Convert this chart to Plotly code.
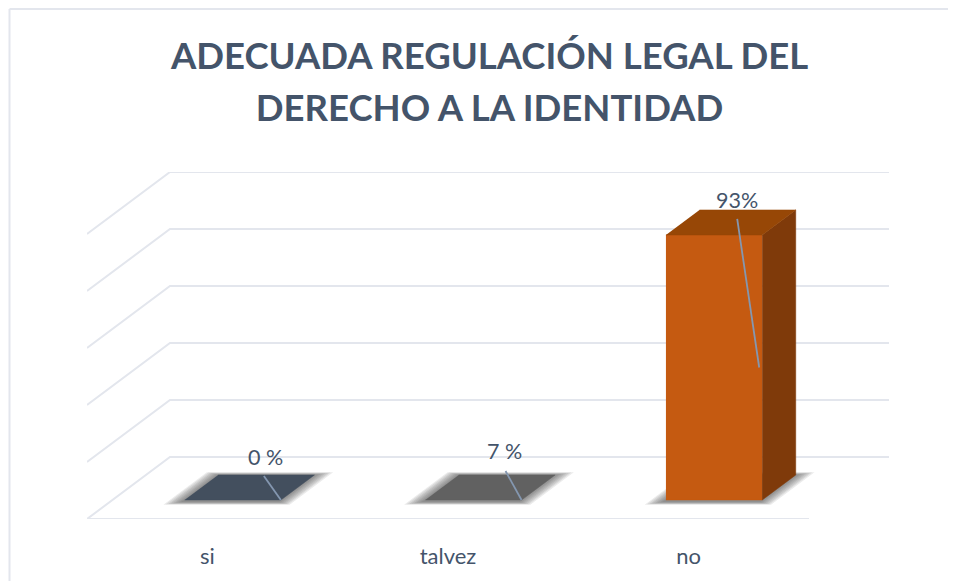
import plotly.graph_objects as go

categories = ['si', 'talvez', 'no']
bar_heights = [0, 0, 93]
data_labels = ['0 %', '7 %', '93%']
gridline_values = [0, 20, 40, 60, 80, 100]

top_colors = ['#434F5E', '#616161', '#974706']
front_colors = ['#44546A', '#636363', '#C55A11']
side_colors = ['#333F50', '#4A4A4A', '#7F3A0A']

TEXT_COLOR = '#44546A'
GRID_COLOR = '#E3E6ED'
LEADER_COLOR = '#8497B0'

# the page keeps an 8px body margin, so the figure is 8px smaller and all px are shifted
FIG_W, FIG_H = 948, 573
LEFT, RIGHT, TOP, BOTTOM = 79, 881, 164, 511
X_UNIT = 240.67   # px per category
Y_UNIT = 2.85     # px per percent

# the fake 3d floor: how far the back wall sits from the front edge
DEPTH_X = 83 / X_UNIT
DEPTH_Y = 62 / Y_UNIT
BAR_FRONT = 0.306
BAR_BACK = 0.71
BAR_HALF = 0.2


def project(x, value, depth):
    return x + depth * DEPTH_X, value - DEPTH_Y + depth * DEPTH_Y


def face(corners, color, edge=0.5):
    points = [project(*c) for c in corners]
    return go.Scatter(x=[p[0] for p in points], y=[p[1] for p in points],
                      mode='lines', fill='toself', fillcolor=color,
                      line=dict(color=color, width=edge),
                      hoverinfo='skip', cliponaxis=False)


fig = go.Figure()

# gridlines run along the left wall and then the back wall
for v in gridline_values:
    points = [project(-0.5, v, 0), project(-0.5, v, 1), project(2.5 - 3 / X_UNIT, v, 1)]
    fig.add_trace(go.Scatter(x=[p[0] for p in points], y=[p[1] for p in points],
                             mode='lines', line=dict(color=GRID_COLOR, width=2),
                             hoverinfo='skip', cliponaxis=False))

floor = [project(-0.5, 0, 0), project(2.5, 0, 0)]
fig.add_trace(go.Scatter(x=[p[0] for p in floor], y=[p[1] for p in floor],
                         mode='lines', line=dict(color=GRID_COLOR, width=2),
                         hoverinfo='skip', cliponaxis=False))

for i, h in enumerate(bar_heights):
    # soft shadow on the floor, stacked see-through layers
    for grow in [15, 13, 11, 9, 7, 5, 3, 1]:
        g = grow / X_UNIT
        dy = grow * 0.003
        fig.add_trace(face([(i - BAR_HALF - g, 0, BAR_FRONT - 0.03 - dy),
                            (i + BAR_HALF + g, 0, BAR_FRONT - 0.03 - dy),
                            (i + BAR_HALF + g, 0, BAR_BACK + dy),
                            (i - BAR_HALF - g, 0, BAR_BACK + dy)],
                           'rgba(70,70,70,0.11)', edge=0))

    if h > 0:
        fig.add_trace(face([(i - BAR_HALF, 0, BAR_FRONT), (i + BAR_HALF, 0, BAR_FRONT),
                            (i + BAR_HALF, h, BAR_FRONT), (i - BAR_HALF, h, BAR_FRONT)],
                           front_colors[i]))
        fig.add_trace(face([(i + BAR_HALF, 0, BAR_FRONT), (i + BAR_HALF, 0, BAR_BACK),
                            (i + BAR_HALF, h, BAR_BACK), (i + BAR_HALF, h, BAR_FRONT)],
                           side_colors[i]))
    fig.add_trace(face([(i - BAR_HALF, h, BAR_FRONT), (i + BAR_HALF, h, BAR_FRONT),
                        (i + BAR_HALF, h, BAR_BACK), (i - BAR_HALF, h, BAR_BACK)],
                       top_colors[i]))

# leader lines and labels, offsets in px from the bar's front right corner
label_offsets = [(-15, 43), (-17.5, 49), (-25, 35)]
leader_starts = [(-17, 24), (-16, 29), (-25, 16)]
for i, h in enumerate(bar_heights):
    end_x, end_y = project(i + BAR_HALF, h / 2, BAR_FRONT)
    end_x -= 3 / X_UNIT if h > 0 else 0
    top_x, top_y = project(i + BAR_HALF, h, BAR_FRONT)
    fig.add_trace(go.Scatter(x=[top_x + leader_starts[i][0] / X_UNIT, end_x],
                             y=[top_y + leader_starts[i][1] / Y_UNIT, end_y],
                             mode='lines', line=dict(color=LEADER_COLOR, width=1.8),
                             hoverinfo='skip', cliponaxis=False))
    fig.add_annotation(x=top_x + label_offsets[i][0] / X_UNIT,
                       y=top_y + label_offsets[i][1] / Y_UNIT,
                       text=data_labels[i], showarrow=False,
                       font=dict(family='Lato', size=21.5, color=TEXT_COLOR))

fig.update_layout(
    width=FIG_W,
    height=FIG_H,
    autosize=False,
    showlegend=False,
    paper_bgcolor='white',
    plot_bgcolor='rgba(0,0,0,0)',
    margin=dict(l=LEFT, r=FIG_W - RIGHT, t=TOP, b=FIG_H - BOTTOM),
    title=dict(text='<span style="font-size:36.5px">ADECUADA REGULACIÓN LEGAL DEL<br>DERECHO A LA IDENTIDAD</span>',
               x=481.5 / FIG_W, xanchor='center', y=1 - 61 / FIG_H, yanchor='top',
               font=dict(family='Lato', size=40, color=TEXT_COLOR, weight='bold')),
    xaxis=dict(range=[-0.5, -0.5 + (RIGHT - LEFT) / X_UNIT], showgrid=False, zeroline=False,
               tickmode='array', tickvals=[0, 1, 2], ticktext=categories, ticks='',
               ticklabelstandoff=22, showline=False,
               tickfont=dict(family='Lato', size=22, color=TEXT_COLOR)),
    yaxis=dict(range=[-DEPTH_Y, (BOTTOM - TOP) / Y_UNIT - DEPTH_Y], showgrid=False,
               zeroline=False, showticklabels=False, showline=False, ticks=''),
    # chart frame, only the top and left edges fall inside the picture
    shapes=[dict(type='line', xref='paper', yref='paper',
                 x0=(1.5 - LEFT) / (RIGHT - LEFT), x1=(FIG_W - LEFT) / (RIGHT - LEFT),
                 y0=(BOTTOM - 1) / (BOTTOM - TOP), y1=(BOTTOM - 1) / (BOTTOM - TOP),
                 line=dict(color=GRID_COLOR, width=2)),
            dict(type='line', xref='paper', yref='paper',
                 x0=(1.5 - LEFT) / (RIGHT - LEFT), x1=(1.5 - LEFT) / (RIGHT - LEFT),
                 y0=(BOTTOM - FIG_H) / (BOTTOM - TOP), y1=(BOTTOM - 1) / (BOTTOM - TOP),
                 line=dict(color=GRID_COLOR, width=2))],
)

fig.write_html("out.html")
